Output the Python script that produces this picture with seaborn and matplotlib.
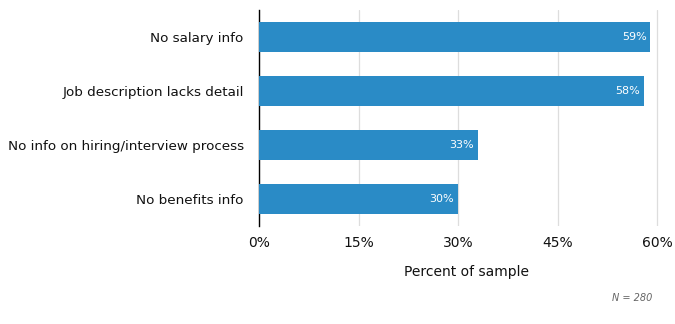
import matplotlib
matplotlib.use("Agg")
import matplotlib.pyplot as plt
import seaborn as sns
import pandas as pd

categories = ["No salary info", "Job description lacks detail",
              "No info on hiring/interview process", "No benefits info"]
values = [59, 58, 33, 30]
xticks = [0, 15, 30, 45, 60]
xticklabels = ["0%", "15%", "30%", "45%", "60%"]

df = pd.DataFrame({"cat": categories, "val": values})

sns.set_theme(style="white")
plt.rcParams["font.family"] = ["DejaVu Sans"]

fig = plt.figure(figsize=(6.75, 3.24), dpi=100)
ax = fig.add_axes([259/675, 1-226/324, 1-259/675, 216/324])

sns.barplot(data=df, x="val", y="cat", orient="h", color="#2a8bc6",
            saturation=1, width=0.56, ax=ax, zorder=3, linewidth=0)

ax.set_xlim(0, 62.7)
ax.set_ylim(3.5, -0.5)
ax.set_xticks(xticks)
ax.set_xticklabels(xticklabels, fontsize=10, color="#111111")
ax.tick_params(axis="y", labelsize=9.7, colors="#111111", length=0, pad=11)
ax.tick_params(axis="x", length=0, pad=7)
ax.xaxis.grid(True, color="#dddddd", linewidth=0.9, zorder=0)
ax.yaxis.grid(False)
for s in ["top", "right", "bottom"]:
    ax.spines[s].set_visible(False)
ax.spines["left"].set_color("#000000")
ax.spines["left"].set_linewidth(1)
ax.set_ylabel("")
ax.set_xlabel("Percent of sample", fontsize=10, color="#111111", labelpad=11)

for i, v in enumerate(values):
    ax.text(v - 0.6, i, f"{v}%", ha="right", va="center", color="white",
            fontsize=8, zorder=4)

fig.text(652/675, 1-298/324, "N = 280", ha="right", va="center",
         fontsize=7, style="italic", color="#666666")

fig.savefig("out.png", dpi=100)
